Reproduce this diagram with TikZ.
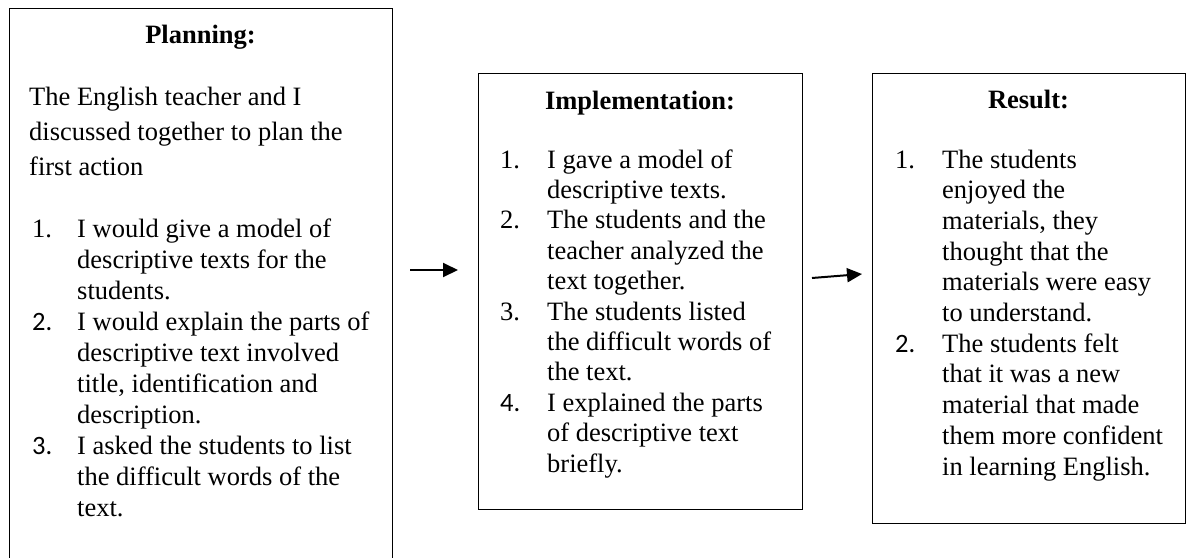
\documentclass[tikz,border=0pt]{standalone}
\usepackage{fontspec}
\setmainfont{Liberation Serif}
\newfontfamily\numfont{Carlito}
\usetikzlibrary{arrows.meta}
\begin{document}
\begin{tikzpicture}[x=1pt,y=-1pt,
  panel/.style={draw, line width=1.4pt, inner sep=0pt, anchor=north west},
  line/.style={anchor=base west, inner sep=0pt, font=\fontsize{26.5}{31}\selectfont},
  head/.style={anchor=base, inner sep=0pt, font=\fontsize{26.5}{31}\selectfont\bfseries},
  flow/.style={line width=2pt, -{Triangle[length=15pt,width=14pt]}}]
\useasboundingbox (0,0) rectangle (1190,557);
\clip (0,0) rectangle (1190,557);

% the three panels (the planning panel runs past the lower edge)
\node[panel, minimum width=383pt, minimum height=620pt] (plan) at (9,8) {};
\node[panel, minimum width=324pt, minimum height=436pt] (impl) at (478,73) {};
\node[panel, minimum width=313pt, minimum height=450pt] (res) at (872,73) {};

% headings
\node[head] (planT) at (200.5,43) {Planning:};
\node[head] (implT) at (640,109) {Implementation:};
\node[head] (resT) at (1028.5,108) {Result:};

% planning panel
\foreach \t [count=\i from 0] in {The English teacher and I, discussed together to plan the, first action}
  \node[line, name=pi\i] at (29,105.5+35*\i) {\t};
\node[line] (pn1) at (32,237) {1.};
\node[line] (pn2) at (32,330) {\numfont 2.};
\node[line] (pn3) at (32,454) {\numfont 3.};
\foreach \t [count=\i from 0] in {I would give a model of, descriptive texts for the, students., I would explain the parts of, descriptive text involved, {title, identification and}, description., I asked the students to list, the difficult words of the, text.}
  \node[line, name=pl\i] at (77,237+31*\i) {\t};

% implementation panel
\node[line] (in1) at (500,168) {1.};
\node[line] (in2) at (500,228.8) {2.};
\node[line] (in3) at (500,320) {3.};
\node[line] (in4) at (500,411.2) {\numfont 4.};
\foreach \t [count=\i from 0] in {I gave a model of, descriptive texts., The students and the, teacher analyzed the, text together., The students listed, the difficult words of, the text., I explained the parts, of descriptive text, briefly.}
  \node[line, name=il\i] at (547,168+30.4*\i) {\t};

% result panel
\node[line] (rn1) at (895,168) {1.};
\node[line] (rn2) at (895,352.2) {\numfont 2.};
\foreach \t [count=\i from 0] in {The students, enjoyed the, {materials, they}, thought that the, materials were easy, to understand., The students felt, that it was a new, material that made, them more confident, in learning English.}
  \node[line, name=rl\i] at (942,168+30.7*\i) {\t};

% arrows between the panels
\coordinate (a1s) at (410,270);
\coordinate (a1e) at (458,270);
\coordinate (a2s) at (812,278);
\coordinate (a2e) at (862,274);
\draw[flow] (a1s) -- (a1e);
\draw[flow] (a2s) -- (a2e);
\end{tikzpicture}
\end{document}
